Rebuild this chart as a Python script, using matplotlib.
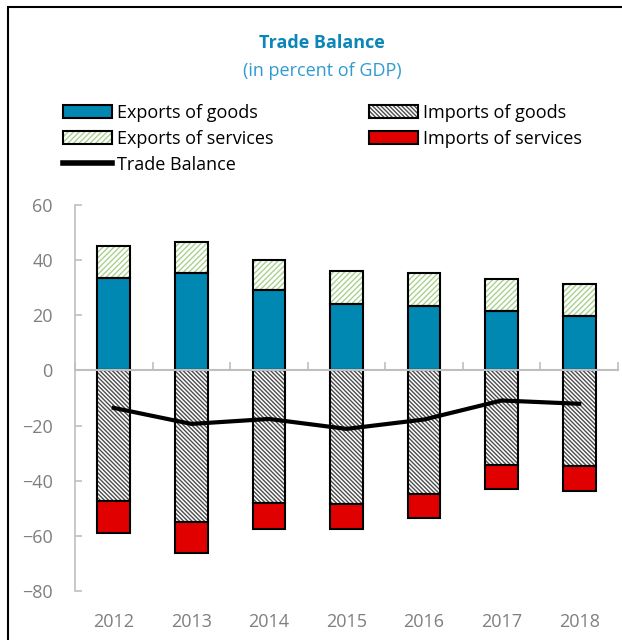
import numpy as np
import matplotlib
matplotlib.use("Agg")
import matplotlib.pyplot as plt
from matplotlib.patches import Patch, Rectangle
from matplotlib.lines import Line2D

plt.rcParams["font.family"] = "Open Sans"
plt.rcParams["hatch.linewidth"] = 1.0

years = ["2012", "2013", "2014", "2015", "2016", "2017", "2018"]
exports_goods = [33.7, 35.4, 29.3, 24.2, 23.3, 21.5, 19.9]
exports_services = [11.6, 11.1, 10.6, 11.8, 12.1, 11.7, 11.6]
imports_goods = [-47.5, -55.1, -48.0, -48.6, -44.7, -34.2, -34.8]
imports_services = [-11.6, -11.2, -9.5, -8.9, -8.9, -8.8, -8.8]
trade_balance = [-13.6, -19.4, -17.6, -21.2, -17.8, -10.9, -12.1]

BLUE = "#0087b2"
RED = "#e00000"
GREEN_HATCH = "#a9d18e"
GREY_HATCH = "#4d4d4d"
AXIS_GREY = "#bfbfbf"
LABEL_GREY = "#7f7f7f"
SERV_HATCH = "//////"
GOODS_HATCH = "\\\\\\\\\\\\\\\\"

W, H = 622, 640
fig = plt.figure(figsize=(W / 100, H / 100), dpi=100)
ax = fig.add_axes([75 / W, 1 - 591 / H, (618 - 75) / W, (591 - 205) / H])

x = np.arange(len(years))
width = 0.42


def hatched_bar(vals, bottom, hatch_color, hatch):
    ax.bar(x, vals, width, bottom=bottom, color="white", edgecolor=hatch_color,
           hatch=hatch, linewidth=0, zorder=2)
    ax.bar(x, vals, width, bottom=bottom, fill=False, edgecolor="black",
           linewidth=1.5, zorder=3)


ax.bar(x, exports_goods, width, color=BLUE, edgecolor="black", linewidth=1.5, zorder=3)
hatched_bar(exports_services, exports_goods, GREEN_HATCH, SERV_HATCH)
hatched_bar(imports_goods, 0, GREY_HATCH, GOODS_HATCH)
ax.bar(x, imports_services, width, bottom=imports_goods, color=RED,
       edgecolor="black", linewidth=1.5, zorder=3)
ax.plot(x, trade_balance, color="black", linewidth=3, zorder=5)

# axes styling
ax.set_xlim(-0.5, len(years) - 0.5)
ax.set_ylim(-80, 60)
ax.set_yticks(np.arange(-80, 61, 20))
ax.tick_params(axis="y", direction="in", length=5, width=1.2, color=AXIS_GREY,
               labelcolor=LABEL_GREY, labelsize=13, pad=16)
for s in ["top", "right"]:
    ax.spines[s].set_visible(False)
ax.spines["left"].set_color(AXIS_GREY)
ax.spines["left"].set_linewidth(1.2)
ax.spines["bottom"].set_position(("data", 0))
ax.spines["bottom"].set_color(AXIS_GREY)
ax.spines["bottom"].set_linewidth(1.5)
ax.spines["bottom"].set_zorder(4)
ax.set_xticks(np.arange(-0.5, len(years), 1.0))
ax.tick_params(axis="x", direction="in", length=6, width=1.2, color=AXIS_GREY,
               labelbottom=False)

# year labels along the bottom edge
secax = ax.secondary_xaxis("bottom")
secax.set_xticks(x, years)
secax.spines["bottom"].set_visible(False)
secax.tick_params(length=0, pad=16, labelsize=13, labelcolor=LABEL_GREY)

# titles
fig.text(322 / W, 1 - 43 / H, "Trade Balance", ha="center", va="center",
         fontsize=13, fontweight="bold", color="#0b86b8")
fig.text(322 / W, 1 - 71 / H, "(in percent of GDP)", ha="center", va="center",
         fontsize=13, color="#2f9bd0")

# legend in two columns
h_eg = Patch(facecolor=BLUE, edgecolor="black", linewidth=1.5)
h_es = (Patch(facecolor="white", edgecolor=GREEN_HATCH, hatch=SERV_HATCH, linewidth=0),
        Patch(fill=False, edgecolor="black", linewidth=1.5))
h_tb = Line2D([], [], color="black", linewidth=4)
h_ig = (Patch(facecolor="white", edgecolor=GREY_HATCH, hatch=GOODS_HATCH, linewidth=0),
        Patch(fill=False, edgecolor="black", linewidth=1.5))
h_is = Patch(facecolor=RED, edgecolor="black", linewidth=1.5)

leg_kw = dict(loc="upper left", frameon=False, fontsize=13, borderpad=0,
              borderaxespad=0, handlelength=2.7, handleheight=0.72,
              handletextpad=0.3, labelspacing=0.43)
fig.legend([h_eg, h_es, h_tb], ["Exports of goods", "Exports of services", "Trade Balance"],
           bbox_to_anchor=(63 / W, 1 - 104 / H), **leg_kw)
fig.legend([h_ig, h_is], ["Imports of goods", "Imports of services"],
           bbox_to_anchor=(369 / W, 1 - 104 / H), **leg_kw)

# outer frame
fig.add_artist(Rectangle((8 / W, -0.1), 1.2, 1.1 - 7 / H, transform=fig.transFigure,
                         fill=False, edgecolor="black", linewidth=1.5))

fig.savefig("out.png", dpi=100)
